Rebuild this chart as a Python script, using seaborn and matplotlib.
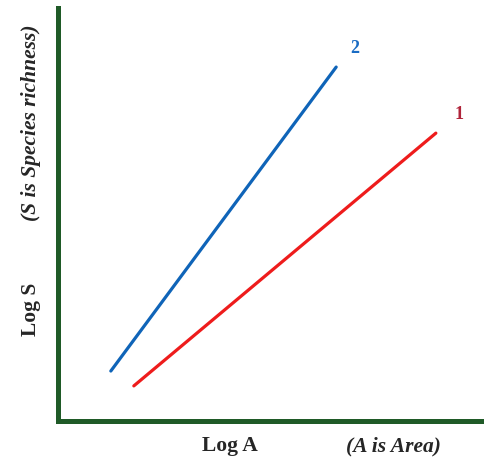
import matplotlib
matplotlib.use("Agg")
import matplotlib.pyplot as plt
import seaborn as sns
import pandas as pd

# Data (log units)
series = ["2", "2", "1", "1"]
log_a = [1.24, 6.53, 1.78, 8.87]
log_s = [1.21, 8.57, 0.85, 6.97]
label_names = ["2", "1"]
label_x = [6.97, 9.41]
label_y = [9.03, 7.41]

sns.set_style("white")
plt.rcParams["font.family"] = ["Liberation Serif", "DejaVu Serif"]

df = pd.DataFrame({"Log A": log_a, "Log S": log_s, "curve": series})
palette = {"2": "#0f64b8", "1": "#ee1c1c"}
label_colors = {"2": "#1a6cc4", "1": "#b0243a"}

fig = plt.figure(figsize=(4.84, 4.57), dpi=100)
ax = fig.add_axes([58 / 484, 36 / 457, 1 - 58 / 484, 413 / 457])
sns.lineplot(data=df, x="Log A", y="Log S", hue="curve", palette=palette,
             linewidth=2.3, legend=False, ax=ax, solid_capstyle="round")

for n, x, y in zip(label_names, label_x, label_y):
    ax.text(x, y, n, color=label_colors[n], fontsize=13, fontweight="bold",
            ha="center", va="center")

ax.set_xlim(0, 10)
ax.set_ylim(0, 10)
ax.set_xticks([])
ax.set_yticks([])
ax.set_xlabel("")
ax.set_ylabel("")
for s in ["top", "right"]:
    ax.spines[s].set_visible(False)
for s in ["left", "bottom"]:
    ax.spines[s].set_color("#1f5a27")
    ax.spines[s].set_linewidth(3.6)

fs = 15.5
fig.text(230 / 484, 1 - 451 / 457, "Log A", fontsize=fs, fontweight="bold",
         ha="center", va="baseline")
fig.text(393 / 484, 1 - 451 / 457, "(A is Area)", fontsize=fs, fontweight="bold",
         style="italic", ha="center", va="baseline")
fig.text(31 / 484, 1 - 309 / 457, "Log S", fontsize=fs, fontweight="bold",
         rotation=90, ha="center", va="center")
fig.text(31 / 484, 1 - 123 / 457, "(S is Species richness)", fontsize=fs,
         fontweight="bold", style="italic", rotation=90, ha="center", va="center")

fig.savefig("out.png", dpi=100)
